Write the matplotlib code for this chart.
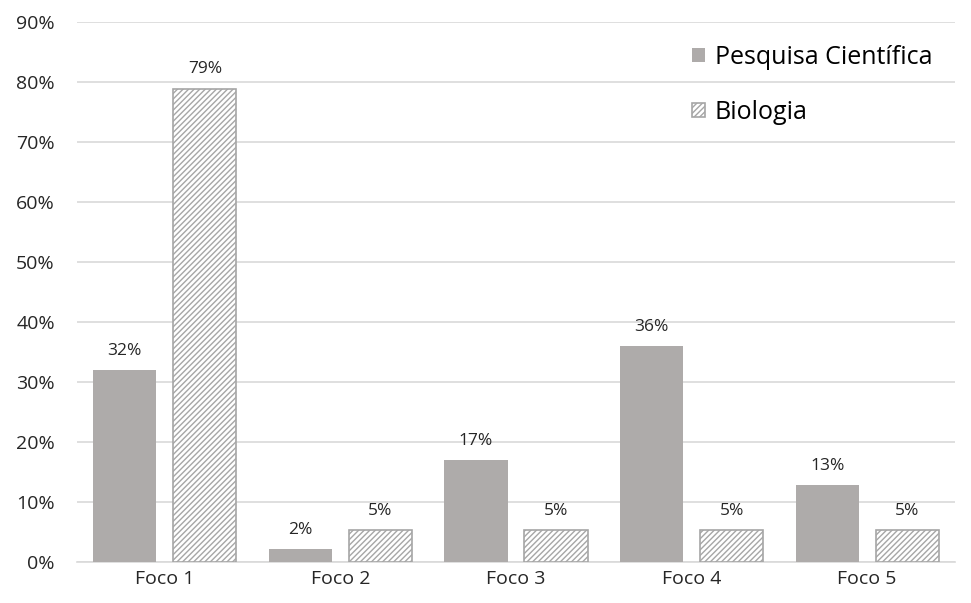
import numpy as np
import matplotlib.pyplot as plt
from matplotlib.ticker import PercentFormatter

categories = ["Foco 1", "Foco 2", "Foco 3", "Foco 4", "Foco 5"]
pesquisa = [0.32, 0.022, 0.17, 0.36, 0.128]
biologia = [0.789, 0.053, 0.053, 0.053, 0.053]
pesquisa_labels = ["32%", "2%", "17%", "36%", "13%"]
biologia_labels = ["79%", "5%", "5%", "5%", "5%"]

plt.rcParams["font.family"] = ["Open Sans", "DejaVu Sans"]
plt.rcParams["hatch.linewidth"] = 1.0
plt.rcParams["hatch.color"] = "#A6A6A6"

fig = plt.figure(figsize=(9.71, 6.03), dpi=100)
ax = fig.add_axes([0.0793, 0.068, 0.9042, 0.8955])

x = np.arange(len(categories))
w = 0.36
off = 0.228

b1 = ax.bar(x - off, pesquisa, w, color="#AEABAA", label="Pesquisa Científica", zorder=3)
b2 = ax.bar(x + off, biologia, w, facecolor="white", edgecolor="#A6A6A6",
            hatch="//////", linewidth=1.2, label="Biologia", zorder=3)

for rect, lab in zip(b1, pesquisa_labels):
    ax.annotate(lab, (rect.get_x() + rect.get_width() / 2, rect.get_height()),
                xytext=(0, 8), textcoords="offset points", ha="center", va="bottom",
                fontsize=12.5, color="#262626")
for rect, lab in zip(b2, biologia_labels):
    ax.annotate(lab, (rect.get_x() + rect.get_width() / 2, rect.get_height()),
                xytext=(0, 8), textcoords="offset points", ha="center", va="bottom",
                fontsize=12.5, color="#262626")

ax.set_xlim(-0.5, len(categories) - 0.5)
ax.set_ylim(0, 0.9)
ax.set_yticks(np.arange(0, 0.91, 0.1))
ax.yaxis.set_major_formatter(PercentFormatter(1.0, decimals=0))
ax.set_xticks(x)
ax.set_xticklabels(categories)
ax.tick_params(axis="both", length=0, labelsize=14, colors="#262626", pad=6)
ax.tick_params(axis="y", pad=16)

ax.grid(axis="y", color="#D9D9D9", linewidth=1.2, zorder=0)
for s in ["top", "right", "left"]:
    ax.spines[s].set_visible(False)
ax.spines["bottom"].set_color("#D9D9D9")
ax.spines["bottom"].set_linewidth(1.2)

leg = ax.legend(loc="upper right", frameon=False, fontsize=18, handlelength=0.5,
                handleheight=0.5, handletextpad=0.4, labelspacing=1.2,
                bbox_to_anchor=(1.0, 1.0))

fig.savefig("out.png", dpi=100)
